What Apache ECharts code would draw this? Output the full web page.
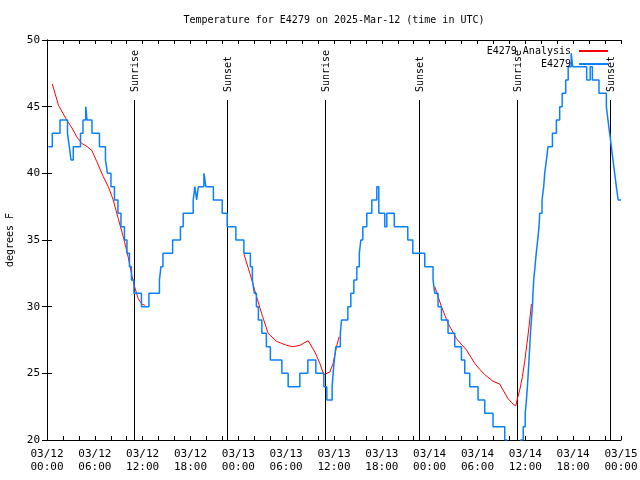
<!DOCTYPE html>
<html><head><meta charset="utf-8">
<script src="https://cdn.jsdelivr.net/npm/echarts@6/dist/echarts.min.js"></script>
<style>html,body{margin:0;padding:0;background:#fff}#c{width:640px;height:480px}</style>
</head><body><div id="c"></div>
<script>
const FONT = 'DejaVu Sans Mono';
const titleText = 'Temperature for E4279 on 2025-Mar-12 (time in UTC)';
const yAxisName = 'degrees F';
const seriesNames = ['E4279 Analysis', 'E4279'];
const xTickLabels = ['03/12\n00:00','03/12\n06:00','03/12\n12:00','03/12\n18:00',
  '03/13\n00:00','03/13\n06:00','03/13\n12:00','03/13\n18:00',
  '03/14\n00:00','03/14\n06:00','03/14\n12:00','03/14\n18:00','03/15\n00:00'];

// hours since 2025-03-12 00:00 UTC
const obsHours = [0.163,0.664,1.630,2.570,2.796,3.009,3.297,4.200,4.513,4.864,5.014,5.641,6.581,7.334,7.584,8.023,8.462,8.901,9.277,9.715,10.029,10.342,10.593,10.906,11.847,12.787,14.103,14.291,14.542,15.758,16.736,17.087,18.340,18.553,18.767,18.992,19.682,19.932,20.872,21.976,22.602,23.693,24.696,25.511,25.762,26.012,26.263,26.514,26.952,27.517,28.018,29.460,30.249,31.716,32.719,33.722,34.725,35.101,35.765,35.891,36.041,36.229,36.793,36.944,37.733,38.110,38.486,38.862,39.175,39.363,39.614,40.115,40.742,41.369,41.620,42.372,42.623,43.563,45.255,45.882,47.386,48.427,48.640,49.053,49.480,50.307,51.147,51.987,52.401,53.027,54.068,54.908,55.948,57.415,57.666,59.421,59.734,59.985,60.135,60.261,60.361,60.461,60.549,60.637,60.762,60.888,60.963,61.050,61.213,61.364,61.552,61.715,61.803,62.091,62.304,62.429,62.643,62.843,63.395,63.896,64.310,64.623,65.062,65.376,65.752,65.940,67.695,68.134,68.409,69.237,70.164,70.365,70.578,70.791,70.992,71.205,71.418,71.643,72.0];
const obsTemps = [42,43,44,43,42,41,42,43,44,45,44,43,42,41,40,39,38,37,36,35,34,33,32,31,30,31,32,33,34,35,36,37,38,39,38,39,40,39,38,37,36,35,34,33,32,31,30,29,28,27,26,25,24,25,26,25,24,23,24,25,26,27,28,29,30,31,32,33,34,35,36,37,38,39,37,36,37,36,35,34,33,32,31,30,29,28,27,26,25,24,23,22,21,20,19,20,21,22,23,24,25,26,27,28,29,30,31,32,33,34,35,36,37,38,39,40,41,42,43,44,45,46,47,48,49,48,47,48,47,46,45,44,43,42,41,40,39,38,38];

// analysis; null marks a gap
const anaHours = [0.664,1.442,2.470,3.134,3.723,4.350,5.052,5.641,6.230,7.058,7.685,8.311,8.938,9.565,10.192,10.656,11.032,11.445,11.872,12.285,
  18.0,
  24.696,25.448,26.288,26.915,27.742,28.795,30.049,30.876,31.716,32.757,33.597,34.224,34.725,35.477,35.891,36.317,36.643,
  42.0,
  48.640,49.480,50.307,51.360,52.614,53.654,54.281,54.908,55.948,56.788,57.202,57.829,58.456,58.794,58.957,59.296,59.634,59.922,60.211,60.461,60.762];
const anaTemps = [46.7,45.1,44.0,43.4,42.75,42.25,42.0,41.7,40.9,39.75,39.0,38.0,36.6,35.25,33.7,32.3,31.4,30.6,30.2,30.1,
  null,
  33.95,32.5,30.75,29.5,28.0,27.4,27.1,27.0,27.1,27.45,26.6,25.75,24.9,25.1,25.75,27.0,27.75,
  null,
  31.5,30.0,28.75,27.6,26.75,25.75,25.3,24.9,24.4,24.2,23.75,23.1,22.7,22.55,23.0,23.75,24.75,25.9,27.25,28.5,30.2];

const eventHours = [10.94, 22.60, 34.93, 46.66, 58.92, 70.62];
const eventNames = ['Sunrise','Sunset','Sunrise','Sunset','Sunrise','Sunset'];
const EVENT_TOP = 45.5;

const chart = echarts.init(document.getElementById('c'), null, {renderer: 'canvas'});
const txt = (size) => ({fontFamily: FONT, fontSize: size, color: '#000', fontWeight: 'normal'});

const xBase = {
  type: 'value', min: 0, max: 72, interval: 6,
  axisLine: {show: true, lineStyle: {color: '#000', width: 1}},
  axisTick: {show: true, inside: true, length: 4, lineStyle: {color: '#000'}},
  minorTick: {show: true, splitNumber: 3, length: 4, lineStyle: {color: '#000'}},
  splitLine: {show: false}, minorSplitLine: {show: false}
};
const yBase = {
  type: 'value', min: 20, max: 50, interval: 5,
  axisLine: {show: true, lineStyle: {color: '#000', width: 1}},
  axisTick: {show: true, inside: true, length: 5, lineStyle: {color: '#000'}},
  splitLine: {show: false}
};

chart.setOption({
  animation: false,
  backgroundColor: '#fff',
  title: {
    text: titleText, left: 334, top: 15, textAlign: 'center', padding: 0,
    textStyle: txt(10)
  },
  legend: {
    data: seriesNames, orient: 'vertical', align: 'right',
    right: 31, top: 45, padding: 0, itemGap: 1, itemWidth: 29, itemHeight: 12,
    itemStyle: {opacity: 0},
    textStyle: Object.assign(txt(10), {padding: [0, 3, 0, 0], lineHeight: 12}),
    selectedMode: false
  },
  grid: {left: 47, top: 40, width: 574, height: 400, containLabel: false, outerBoundsMode: 'none'},
  xAxis: [
    Object.assign({}, xBase, {
      position: 'bottom',
      axisLabel: {show: true, margin: 8, lineHeight: 13, fontFamily: FONT, fontSize: 11, color: '#000',
        formatter: (v) => xTickLabels[Math.round(v / 6)] || ''}
    }),
    Object.assign({}, xBase, {position: 'top', axisLabel: {show: false}})
  ],
  yAxis: [
    Object.assign({}, yBase, {
      position: 'left',
      name: yAxisName, nameLocation: 'middle', nameGap: 32, nameRotate: 90,
      nameTextStyle: txt(10),
      axisLabel: {show: true, margin: 7, fontFamily: FONT, fontSize: 11, color: '#000'}
    }),
    Object.assign({}, yBase, {position: 'right', axisLabel: {show: false}})
  ],
  series: [
    {
      type: 'custom', name: 'events', coordinateSystem: 'cartesian2d', silent: true, z: 1,
      data: eventHours.map((h, i) => [h, EVENT_TOP, i]),
      encode: {x: 0, y: 1},
      renderItem: function (params, api) {
        const h = api.value(0);
        const p0 = api.coord([h, 20]);
        const p1 = api.coord([h, api.value(1)]);
        const x = Math.round(p0[0]) + 0.5;
        return {
          type: 'group',
          children: [
            {type: 'line', shape: {x1: x, y1: p0[1], x2: x, y2: p1[1]},
              style: {stroke: '#000', lineWidth: 1}},
            {type: 'text', x: x + 1, y: p1[1] - 8, rotation: Math.PI / 2,
              style: {text: eventNames[api.value(2)], fill: '#000',
                font: '10px ' + FONT, textAlign: 'left', textVerticalAlign: 'middle'}}
          ]
        };
      }
    },
    {
      type: 'line', name: seriesNames[0], xAxisIndex: 0, yAxisIndex: 0, z: 2,
      data: anaHours.map((h, i) => [h, anaTemps[i] === null ? '-' : anaTemps[i]]),
      symbol: 'none', showSymbol: false, connectNulls: false, clip: true,
      lineStyle: {color: '#ff0000', width: 1},
      itemStyle: {color: '#ff0000'}
    },
    {
      type: 'line', name: seriesNames[1], xAxisIndex: 0, yAxisIndex: 0, z: 3,
      data: obsHours.map((h, i) => [h, obsTemps[i]]),
      step: 'end', symbol: 'none', showSymbol: false, clip: true,
      lineStyle: {color: '#0a80ff', width: 1.5},
      itemStyle: {color: '#0a80ff'}
    }
  ]
});
</script>
</body></html>
